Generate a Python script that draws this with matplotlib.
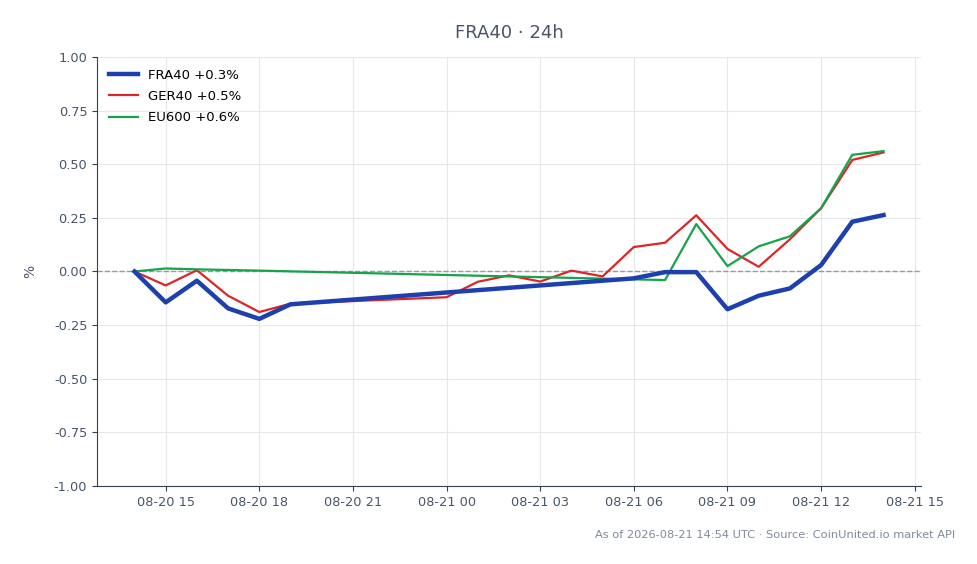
import pandas as pd
import matplotlib
matplotlib.use("Agg")
import matplotlib.pyplot as plt
import matplotlib.dates as mdates

# hourly % change vs 08-20 14:00
fra_times = ["2026-08-20 14:00", "2026-08-20 15:00", "2026-08-20 16:00", "2026-08-20 17:00",
             "2026-08-20 18:00", "2026-08-20 19:00", "2026-08-21 06:00", "2026-08-21 07:00",
             "2026-08-21 08:00", "2026-08-21 09:00", "2026-08-21 10:00", "2026-08-21 11:00",
             "2026-08-21 12:00", "2026-08-21 13:00", "2026-08-21 14:00"]
fra_vals = [0.0, -0.144, -0.043, -0.172, -0.221, -0.153, -0.032, -0.003,
            -0.003, -0.176, -0.113, -0.079, 0.030, 0.232, 0.263]

ger_times = ["2026-08-20 14:00", "2026-08-20 15:00", "2026-08-20 16:00", "2026-08-20 17:00",
             "2026-08-20 18:00", "2026-08-20 19:00", "2026-08-21 00:00", "2026-08-21 01:00",
             "2026-08-21 02:00", "2026-08-21 03:00", "2026-08-21 04:00", "2026-08-21 05:00",
             "2026-08-21 06:00", "2026-08-21 07:00", "2026-08-21 08:00", "2026-08-21 09:00",
             "2026-08-21 10:00", "2026-08-21 11:00", "2026-08-21 12:00", "2026-08-21 13:00",
             "2026-08-21 14:00"]
ger_vals = [0.0, -0.065, 0.006, -0.113, -0.189, -0.150, -0.120, -0.048,
            -0.018, -0.047, 0.004, -0.023, 0.114, 0.134, 0.262, 0.105,
            0.022, 0.150, 0.295, 0.520, 0.555]

eu_times = ["2026-08-20 14:00", "2026-08-20 15:00", "2026-08-20 16:00", "2026-08-20 18:00",
            "2026-08-21 07:00", "2026-08-21 08:00", "2026-08-21 09:00", "2026-08-21 10:00",
            "2026-08-21 11:00", "2026-08-21 12:00", "2026-08-21 13:00", "2026-08-21 14:00"]
eu_vals = [0.0, 0.014, 0.010, 0.004, -0.040, 0.221, 0.025, 0.117,
           0.164, 0.295, 0.544, 0.561]

labels = ["FRA40 +0.3%", "GER40 +0.5%", "EU600 +0.6%"]
colors = ["#1e40af", "#dc2626", "#16a34a"]

fig = plt.figure(figsize=(9.78, 5.64), dpi=100)
ax = fig.add_axes([0.0992, 0.1383, 0.8425, 0.7607])

ax.axhline(0, color="#8e9bb3", lw=1, ls="--", zorder=1)
ax.plot(pd.to_datetime(fra_times), fra_vals, color=colors[0], lw=3.2, label=labels[0], zorder=3)
ax.plot(pd.to_datetime(ger_times), ger_vals, color=colors[1], lw=1.6, label=labels[1], zorder=2)
ax.plot(pd.to_datetime(eu_times), eu_vals, color=colors[2], lw=1.6, label=labels[2], zorder=2)

ax.set_ylim(-1, 1)
ax.set_yticks([-1, -0.75, -0.5, -0.25, 0, 0.25, 0.5, 0.75, 1])
ax.yaxis.set_major_formatter(matplotlib.ticker.FormatStrFormatter("%.2f"))
ax.xaxis.set_major_locator(mdates.HourLocator(byhour=[0, 3, 6, 9, 12, 15, 18, 21]))
ax.xaxis.set_major_formatter(mdates.DateFormatter("%m-%d %H"))

ax.grid(True, color="#e5e7eb", lw=0.8)
ax.set_axisbelow(True)
for s in ["top", "right"]:
    ax.spines[s].set_visible(False)
for s in ["left", "bottom"]:
    ax.spines[s].set_color("#334155")
ax.tick_params(colors="#334155", labelcolor="#475569", labelsize=9.3)
ax.set_ylabel("%", color="#475569", fontsize=10, labelpad=12)

ax.legend(loc="upper left", frameon=False, fontsize=9.5, handlelength=2.2, labelspacing=0.62)
ax.set_title("FRA40 · 24h", color="#4a5568", fontsize=13, pad=14)

fig.text(0.9765, 0.051, "As of 2026-08-21 14:54 UTC · Source: CoinUnited.io market API",
         ha="right", va="center", fontsize=8.2, color="#808a99")

fig.savefig("out.png", dpi=100)
